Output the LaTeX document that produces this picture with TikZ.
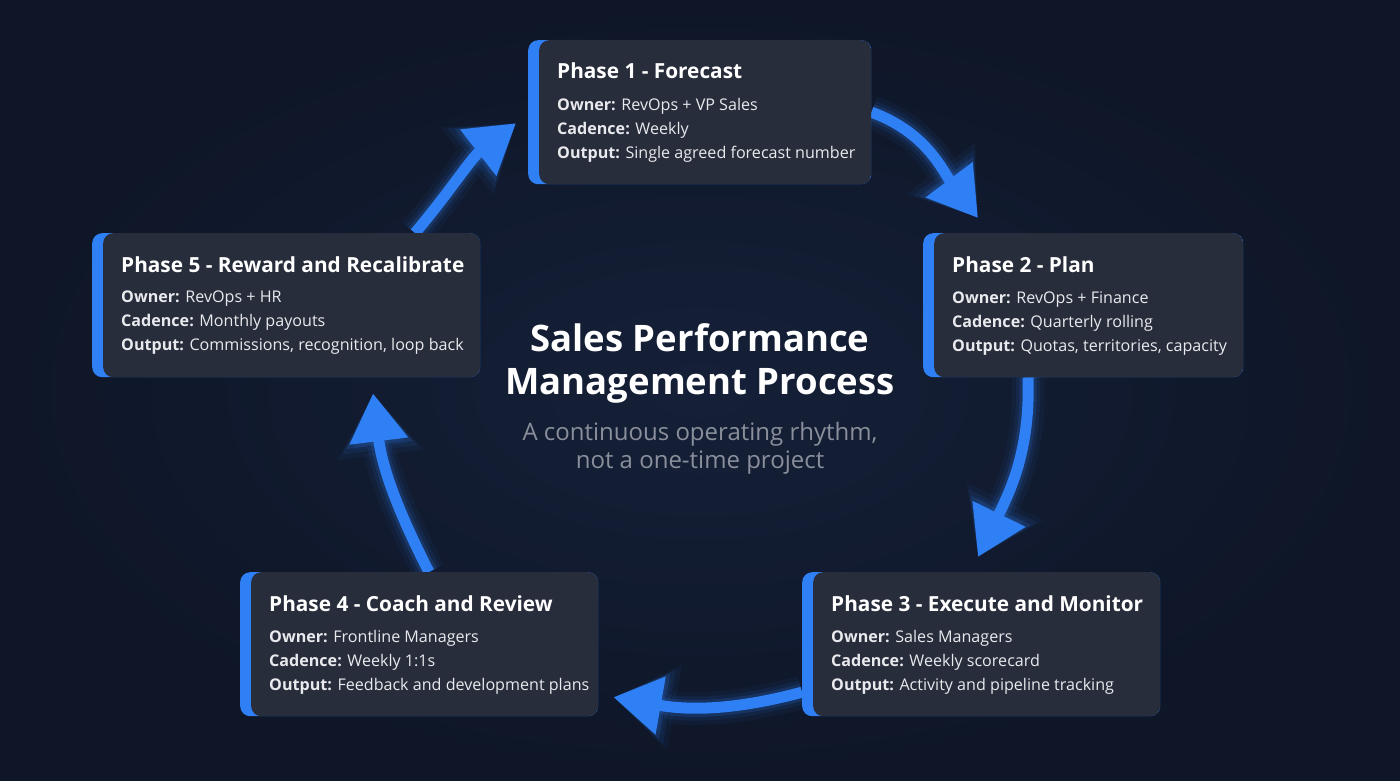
\documentclass[tikz,border=0pt]{standalone}
\usepackage{fontspec}
\setmainfont{Open Sans}
\usetikzlibrary{arrows.meta,backgrounds}
\definecolor{bgnavy}{HTML}{0E1627}
\definecolor{bgmid}{HTML}{152038}
\definecolor{cardbg}{HTML}{282D3B}
\definecolor{accent}{HTML}{2F7FF5}
\definecolor{subgray}{HTML}{8A8F9B}
\definecolor{bodytxt}{HTML}{E9EAEE}
\begin{document}
\begin{tikzpicture}[x=1pt, y=1pt,
   card/.style={fill=accent, rounded corners=10pt, minimum height=144pt, inner sep=0pt, anchor=north west,
     path picture={\fill[cardbg, rounded corners=10pt] ([xshift=11pt]path picture bounding box.south west)
       rectangle (path picture bounding box.north east);}},
   ctitle/.style={inner sep=0pt, anchor=base west, text=white, font=\fontsize{20.8}{26}\selectfont\bfseries},
   cbody/.style={inner sep=0pt, anchor=north west, align=left, text=bodytxt, font=\fontsize{16.1}{24}\selectfont},
   flow/.style={draw=accent, line width=11pt, -{Triangle[length=48pt,width=56pt]},
     preaction={draw=accent, opacity=0.05, line width=33pt, -{Triangle[length=62pt,width=82pt]}},
     preaction={draw=accent, opacity=0.09, line width=24pt, -{Triangle[length=57pt,width=72pt]}},
     preaction={draw=accent, opacity=0.16, line width=17pt, -{Triangle[length=52pt,width=63pt]}}}]
   \useasboundingbox (0,0) rectangle (1400,-781);
   \foreach \n/\x/\y/\w/\t/\o/\c/\u in
     {p1/528/40/343/{Phase 1 - Forecast}/{RevOps + VP Sales}/{Weekly}/{Single agreed forecast number},
      p2/923/233/320/{Phase 2 - Plan}/{RevOps + Finance}/{Quarterly rolling}/{Quotas, territories, capacity},
      p3/802/572/358/{Phase 3 - Execute and Monitor}/{Sales Managers}/{Weekly scorecard}/{Activity and pipeline tracking},
      p4/240/572/358/{Phase 4 - Coach and Review}/{Frontline Managers}/{Weekly 1:1s}/{Feedback and development plans},
      p5/92/233/388/{Phase 5 - Reward and Recalibrate}/{RevOps + HR}/{Monthly payouts}/{Commissions, recognition, loop back}}
   {
     \node[card, minimum width=\w pt] (\n) at (\x,-\y) {};
     \node[ctitle] (\n t) at ([shift={(29,-39)}]\n.north west) {\t};
     \node[cbody] (\n b) at ([shift={(29,-58)}]\n.north west)
       {\textbf{Owner:} \o\\\textbf{Cadence:} \c\\\textbf{Output:} \u};
   }
   \node[align=center, text=white, font=\fontsize{36.5}{43}\selectfont\bfseries] (title) at (700,-363)
     {Sales Performance\\Management Process};
   \node[align=center, text=subgray, font=\fontsize{24}{28}\selectfont] (sub) at (700,-448)
     {A continuous operating rhythm,\\not a one-time project};
   % glowing loop arrows, kept under the cards
   \begin{pgfonlayer}{background}
     \shade[inner color=bgmid, outer color=bgnavy] (0,0) rectangle (1400,-781);
     \draw[flow] (p1.east) to[out=-20, in=127] ([shift={(55,15)}]p2.north west);
     \draw[flow] ([xshift=105]p2.south west) to[out=-88, in=64] ([shift={(176,15)}]p3.north west);
     \draw[flow] ([yshift=-48]p3.west) to[out=195, in=-10] ([shift={(15,-53)}]p4.east);
     \draw[flow] ([xshift=189]p4.north west) to[out=117, in=-83] ([shift={(281,-16)}]p5.south west);
     \draw[flow] ([xshift=323]p5.north west) to[out=50, in=-142] ([shift={(-12,-11)}]p1.west);
   \end{pgfonlayer}
\end{tikzpicture}
\end{document}
